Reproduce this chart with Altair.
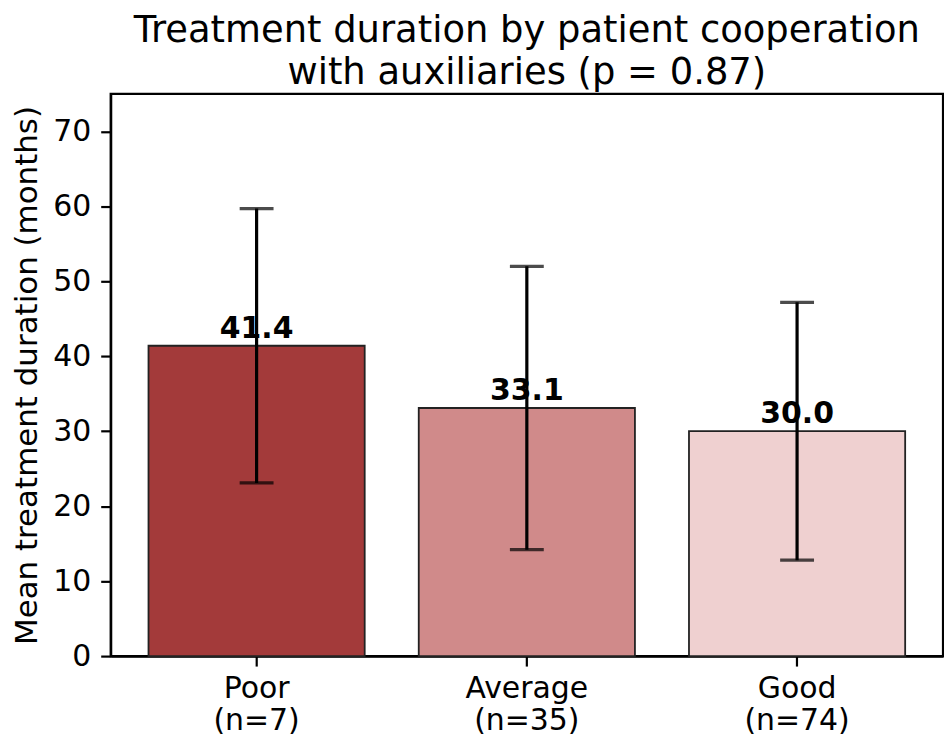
import altair as alt
import pandas as pd

categories = ["Poor", "Average", "Good"]
ns = [7, 35, 74]
means = [41.4, 33.1, 30.0]
sds = [18.3, 18.9, 17.2]
colors = ["#a33a3a", "#d08a8a", "#efd0d0"]

labels = [f"{c}\n(n={n})" for c, n in zip(categories, ns)]
df = pd.DataFrame({
    "label": labels,
    "cat": categories,
    "mean": means,
    "lo": [m - s for m, s in zip(means, sds)],
    "hi": [m + s for m, s in zip(means, sds)],
    "txt": [f"{m:.1f}" for m in means],
})

FONT = "DejaVu Sans"

x = alt.X("label:N", sort=labels, title=None,
          scale=alt.Scale(paddingInner=0.2, paddingOuter=0.14),
          axis=alt.Axis(labelAngle=0, labelExpr="split(datum.value, '\\n')",
                        labelLineHeight=32, labelPadding=8))

base = alt.Chart(df)

bars = base.mark_bar(stroke="#222222", strokeWidth=1.8).encode(
    x=x,
    y=alt.Y("mean:Q", title="Mean treatment duration (months)",
            scale=alt.Scale(domain=[0, 75], nice=False),
            axis=alt.Axis(values=[0, 10, 20, 30, 40, 50, 60, 70], titlePadding=9,
                          labelPadding=10)),
    color=alt.Color("cat:N", scale=alt.Scale(domain=categories, range=colors), legend=None),
)

text = base.mark_text(font=FONT, fontSize=30, fontWeight="bold", baseline="alphabetic",
                      dy=-8, color="black").encode(
    x=x, y="mean:Q", text="txt:N")

err = base.mark_rule(color="black", strokeWidth=3.2).encode(
    x=x, y="lo:Q", y2="hi:Q")

cap_lo = base.mark_tick(color="black", thickness=3.2, size=34).encode(x=x, y="lo:Q")
cap_hi = base.mark_tick(color="black", thickness=3.2, size=34).encode(x=x, y="hi:Q")

chart = alt.layer(bars, text, err, cap_lo, cap_hi).properties(
    width=835, height=564,
    padding={"left": 3, "top": 3, "right": 1, "bottom": 4},
    title=alt.Title(["Treatment duration by patient cooperation",
                     "with auxiliaries (p = 0.87)"],
                    fontSize=37, font=FONT, fontWeight="normal", color="black",
                    lineHeight=42, offset=2, anchor="middle"),
).configure_view(
    stroke="black", strokeWidth=2.2,
).configure_axis(
    labelFont=FONT, titleFont=FONT, labelFontSize=30, titleFontSize=31,
    titleFontWeight="normal", labelColor="black", titleColor="black",
    domainColor="black", domainWidth=2.2, tickColor="black", tickWidth=2.2,
    tickSize=10, grid=False,
)

chart.save("out.html", embed_options={"renderer": "svg", "actions": False})
